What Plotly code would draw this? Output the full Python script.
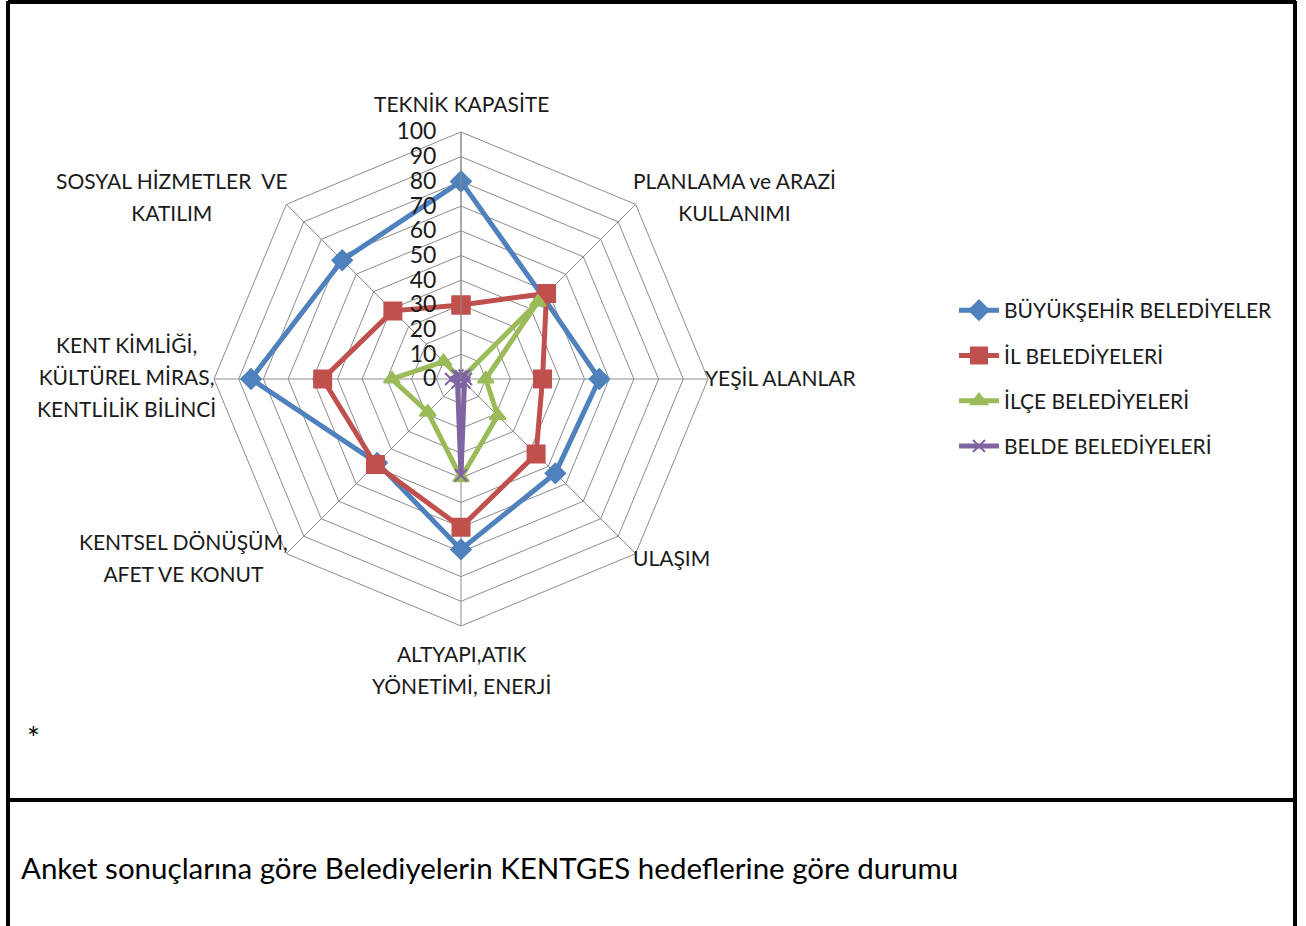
import math
import plotly.graph_objects as go

categories = [
    "TEKNİK KAPASİTE",
    "PLANLAMA ve ARAZİ<br>KULLANIMI",
    "YEŞİL ALANLAR",
    "ULAŞIM",
    "ALTYAPI,ATIK<br>YÖNETİMİ, ENERJİ",
    "KENTSEL DÖNÜŞÜM,<br>AFET VE KONUT",
    "KENT KİMLİĞİ,<br>KÜLTÜREL MİRAS,<br>KENTLİLİK BİLİNCİ",
    "SOSYAL HİZMETLER  VE<br>KATILIM",
]
buyuksehir = [80, 47, 56, 54, 69, 48, 85, 68]
il = [30, 49, 33, 43, 60, 49, 56, 39]
ilce = [0, 44, 10, 21, 40, 19, 28, 10]
belde = [1, 2, 2, 2, 39, 2, 4, 2]

series_names = ["BÜYÜKŞEHİR BELEDİYELER", "İL BELEDİYELERİ", "İLÇE BELEDİYELERİ", "BELDE BELEDİYELERİ"]
series_values = [buyuksehir, il, ilce, belde]
colors = ["#4F81BD", "#C0504D", "#9BBB59", "#8064A2"]
symbols = ["diamond", "square", "triangle-up", "x-thin"]
msizes = [15, 17, 14, 12]

radial_ticks = list(range(0, 101, 10))
caption = "Anket sonuçlarına göre Belediyelerin KENTGES hedeflerine göre durumu"

FONT = "Lato"
W, H = 1306, 926
FS = 21
LINE_H = 32                    # target line pitch of multi-line labels (px)
PLOTLY_LH = 1.3 * FS           # plotly default line pitch

fig = go.Figure()
for name, vals, c, s, ms in zip(series_names, series_values, colors, symbols, msizes):
    fig.add_trace(go.Scatterpolar(
        r=vals + vals[:1],
        theta=categories + categories[:1],
        mode="lines+markers",
        name=name,
        legendgroup=name,
        line=dict(color=c, width=5),
        marker=dict(symbol=s, size=ms, color=c, line=dict(color=c, width=2)),
    ))

cx, cy, R = 461, 379, 247
fig.update_layout(
    width=W, height=H,
    margin=dict(l=0, r=0, t=0, b=0),
    paper_bgcolor="white",
    plot_bgcolor="white",
    font=dict(family=FONT, color="#1a1a1a", size=FS),
    polar=dict(
        domain=dict(x=[(cx - R) / W, (cx + R) / W], y=[1 - (cy + R) / H, 1 - (cy - R) / H]),
        bgcolor="white",
        gridshape="linear",
        radialaxis=dict(
            range=[0, 100], tickvals=radial_ticks, ticktext=[str(v) for v in radial_ticks],
            angle=90, tickangle=90, side="counterclockwise",
            showline=True, linecolor="#8c8c8c", linewidth=1,
            gridcolor="#8c8c8c", gridwidth=1,
            ticks="outside", ticklen=16, tickcolor="rgba(0,0,0,0)",
            tickfont=dict(size=23, color="#1a1a1a", family=FONT),
        ),
        angularaxis=dict(
            rotation=90, direction="clockwise",
            showline=True, linecolor="#8c8c8c", linewidth=1,
            gridcolor="#8c8c8c", gridwidth=1,
            showticklabels=False, ticks="",
        ),
    ),
    legend=dict(
        x=954 / W, y=1 - 290 / H, xanchor="left", yanchor="top",
        font=dict(size=FS, family=FONT, color="#1a1a1a"),
        tracegroupgap=15, itemwidth=40, bgcolor="rgba(0,0,0,0)",
    ),
    showlegend=True,
)

# category labels just outside each polygon vertex, lines centred within the block
n = len(categories)
for i, cat in enumerate(categories):
    ang = math.radians(90 - i * 360 / n)
    c, s = math.cos(ang), math.sin(ang)
    vx = cx + R * c
    vy = cy - R * s
    nl = cat.count("<br>") + 1
    block_h = (nl - 1) * LINE_H
    if abs(c) < 0.1:
        xanchor, bx = "center", vx
        by = vy - 29 - block_h / 2 if s > 0 else vy + 27 + block_h / 2
    else:
        xanchor = "left" if c > 0 else "right"
        bx = vx - 5 if c > 0 else vx + 4
        if abs(s) < 0.1:
            by = vy - 2
        elif s > 0:
            by = vy - 8
        else:
            by = vy + 4
    # plotly lays out with its own line pitch; JS below widens it, so shift the anchor up
    y_plot = by - (nl - 1) * (LINE_H - PLOTLY_LH) / 2
    fig.add_annotation(
        text=cat, xref="paper", yref="paper",
        x=bx / W, y=1 - y_plot / H, xanchor=xanchor, yanchor="middle", align="center",
        showarrow=False, font=dict(size=FS, family=FONT, color="#1a1a1a"),
    )

line = dict(color="black", width=4)
fig.add_shape(type="line", xref="paper", yref="paper", x0=8 / W, x1=1296 / W, y0=1 - 2 / H, y1=1 - 2 / H, line=line)
fig.add_shape(type="line", xref="paper", yref="paper", x0=8 / W, x1=8 / W, y0=0, y1=1 - 1 / H, line=line)
fig.add_shape(type="line", xref="paper", yref="paper", x0=1295 / W, x1=1295 / W, y0=0, y1=1 - 1 / H, line=line)
fig.add_shape(type="line", xref="paper", yref="paper", x0=8 / W, x1=1296 / W, y0=1 - 800 / H, y1=1 - 800 / H, line=line)

fig.add_annotation(text="*", xref="paper", yref="paper", x=25 / W, y=1 - 737 / H,
                   xanchor="left", yanchor="middle", showarrow=False,
                   font=dict(size=30, family=FONT, color="black"))
fig.add_annotation(text=caption, xref="paper", yref="paper", x=19 / W, y=1 - 867 / H,
                   xanchor="left", yanchor="middle", showarrow=False,
                   font=dict(size=29.5, family=FONT, color="black"))

post = """
document.body.style.margin='0';document.body.style.overflow='hidden';
var k = %f;
document.querySelectorAll('.annotation-text tspan.line').forEach(function(t){
  var dy = t.getAttribute('dy');
  if (dy) {
    var v = parseFloat(dy);
    if (v > 0) { t.setAttribute('dy', (v * k).toFixed(4) + 'em'); }
  }
});
""" % (LINE_H / PLOTLY_LH)
fig.write_html("out.html", post_script=post, config={"displayModeBar": False})
